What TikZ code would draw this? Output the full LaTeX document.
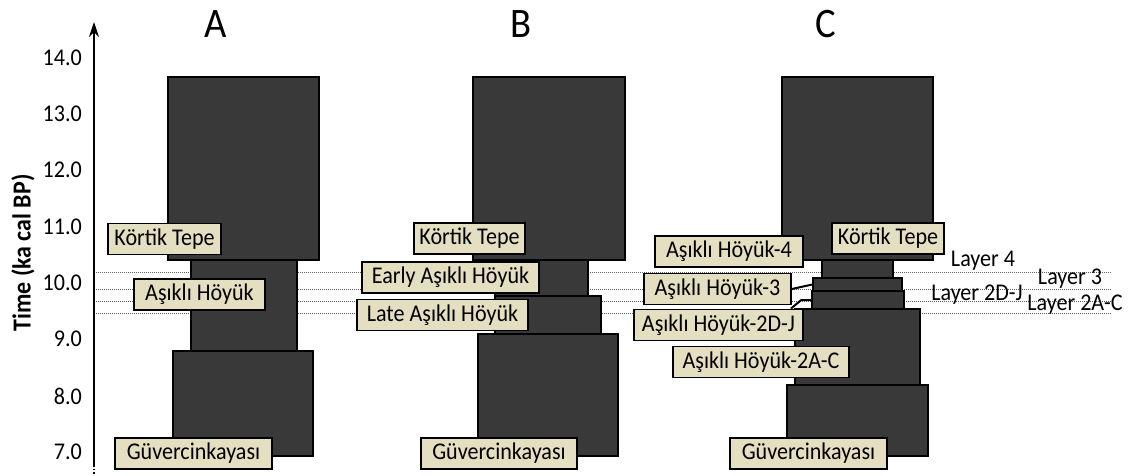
\documentclass[tikz,border=0pt]{standalone}
\usepackage{fontspec}
\setmainfont{Carlito}[FakeStretch=0.92]
\usetikzlibrary{arrows.meta}
\definecolor{blockgray}{RGB}{58,57,57}
\definecolor{labelfill}{RGB}{229,223,194}
\definecolor{guidegray}{RGB}{95,95,95}
\begin{document}
\begin{tikzpicture}[x=1pt,y=-1pt,
  blk/.style={draw=black, line width=1.5pt, fill=blockgray, inner sep=0pt, rectangle},
  lbl/.style={draw=black, line width=1.8pt, fill=labelfill, inner sep=0pt,
              minimum height=31pt, rectangle, font=\fontsize{24}{28}\selectfont},
  ticklbl/.style={anchor=east, inner sep=0pt, font=\fontsize{24}{28}\selectfont},
  layerlbl/.style={inner sep=0pt, font=\fontsize{24}{28}\selectfont},
  paneltitle/.style={inner sep=0pt, font=\fontsize{42}{48}\selectfont},
  guide/.style={guidegray, line width=1pt, densely dotted},
  conn/.style={draw=black, line width=2pt},
  axis/.style={line width=1.5pt, -{Stealth[length=15pt,width=10pt]}}
]
\useasboundingbox (0,0) rectangle (1130,476);

% time axis
\coordinate (axbot) at (94,465);
\coordinate (axtop) at (94,22);
\coordinate (axend) at (94,476);
\draw[axis] (axbot) -- (axtop);
\draw[line width=1.5pt, dotted] (axbot) -- (axend);
\node[rotate=90, inner sep=0pt, font=\fontsize{26}{30}\selectfont\bfseries] (ytitle) at (23,253) {Time (ka cal BP)};

\node[ticklbl] (t14) at (82,58)  {14.0};
\node[ticklbl] (t13) at (82,114) {13.0};
\node[ticklbl] (t12) at (82,170) {12.0};
\node[ticklbl] (t11) at (82,227) {11.0};
\node[ticklbl] (t10) at (82,283) {10.0};
\node[ticklbl] (t9)  at (82,339) {9.0};
\node[ticklbl] (t8)  at (82,396) {8.0};
\node[ticklbl] (t7)  at (82,452) {7.0};

% layer boundaries
\coordinate (g1l) at (96,272);  \coordinate (g1r) at (1112,272);
\coordinate (g2l) at (96,289);  \coordinate (g2r) at (1112,289);
\coordinate (g3l) at (96,301);  \coordinate (g3r) at (1112,301);
\coordinate (g4l) at (96,313);  \coordinate (g4r) at (1112,313);
\draw[guide] (g1l) -- (g1r);
\draw[guide] (g2l) -- (g2r);
\draw[guide] (g3l) -- (g3r);
\draw[guide] (g4l) -- (g4r);

% panel titles
\node[paneltitle] (ttlA) at (216,24) {A};
\node[paneltitle] (ttlB) at (521,24) {B};
\node[paneltitle] (ttlC) at (826,24) {C};

% panel A occupation blocks
\node[blk, minimum width=151pt, minimum height=183pt] (aKT) at (243.5,168.5) {};
\node[blk, minimum width=106pt, minimum height=91pt]  (aAH) at (244,305.5) {};
\node[blk, minimum width=140pt, minimum height=105pt] (aGK) at (243,403.5) {};

% panel B occupation blocks
\node[blk, minimum width=152pt, minimum height=183pt] (bKT) at (549,168.5) {};
\node[blk, minimum width=93pt,  minimum height=36pt]  (bEA) at (541.5,278) {};
\node[blk, minimum width=106pt, minimum height=38pt]  (bLA) at (548,315) {};
\node[blk, minimum width=140pt, minimum height=122pt] (bGK) at (548,395) {};

% panel C occupation blocks
\node[blk, minimum width=151pt, minimum height=183pt] (cKT)   at (857.5,168.5) {};
\node[blk, minimum width=71pt,  minimum height=18pt]  (cL4)   at (857.5,269) {};
\node[blk, minimum width=89pt,  minimum height=13pt]  (cL3)   at (857.5,284.5) {};
\node[blk, minimum width=92pt,  minimum height=18pt]  (cL2DJ) at (858,300) {};
\node[blk, minimum width=125pt, minimum height=76pt]  (cL2AC) at (857.5,347) {};
\node[blk, minimum width=141pt, minimum height=71pt]  (cGK)   at (857.5,420.5) {};

% layer names
\node[layerlbl] (nL4)   at (983,261)  {Layer 4};
\node[layerlbl] (nL3)   at (1070,279) {Layer 3};
\node[layerlbl] (nL2DJ) at (977,295)  {Layer 2D-J};
\node[layerlbl] (nL2AC) at (1075,305) {Layer 2A-C};

% site labels, panel A
\node[lbl, minimum width=113pt] (laKT) at (164.5,239)   {Körtik Tepe};
\node[lbl, minimum width=131pt] (laAH) at (199.5,294.5) {Aşıklı Höyük};
\node[lbl, minimum width=157pt] (laGK) at (193.5,453.5) {Güvercinkayası};

% site labels, panel B
\node[lbl, minimum width=111pt] (lbKT) at (469.5,238.5) {Körtik Tepe};
\node[lbl, minimum width=177pt] (lbEA) at (450.5,277.5) {Early Aşıklı Höyük};
\node[lbl, minimum width=171pt] (lbLA) at (442.5,315)   {Late Aşıklı Höyük};
\node[lbl, minimum width=156pt] (lbGK) at (499,453.5)   {Güvercinkayası};

% site labels, panel C
\node[lbl, minimum width=112pt] (lcKT)   at (888,238.5) {Körtik Tepe};
\node[lbl, minimum width=148pt] (lcAH4)  at (729,251.5) {Aşıklı Höyük-4};
\node[lbl, minimum width=147pt] (lcAH3)  at (717.5,289) {Aşıklı Höyük-3};
\node[lbl, minimum width=169pt] (lcAH2DJ) at (718.5,325) {Aşıklı Höyük-2D-J};
\node[lbl, minimum width=176pt] (lcAH2AC) at (761,362)  {Aşıklı Höyük-2A-C};
\node[lbl, minimum width=157pt] (lcGK)   at (808.5,453.5) {Güvercinkayası};

% leader lines to the thin layers
\draw[conn] (lcAH3.east) -- (cL3.west);
\draw[conn] ([xshift=-13pt]lcAH2DJ.north east) -- ([xshift=-10pt]cL2DJ.west) -- (cL2DJ.west);
\end{tikzpicture}
\end{document}
